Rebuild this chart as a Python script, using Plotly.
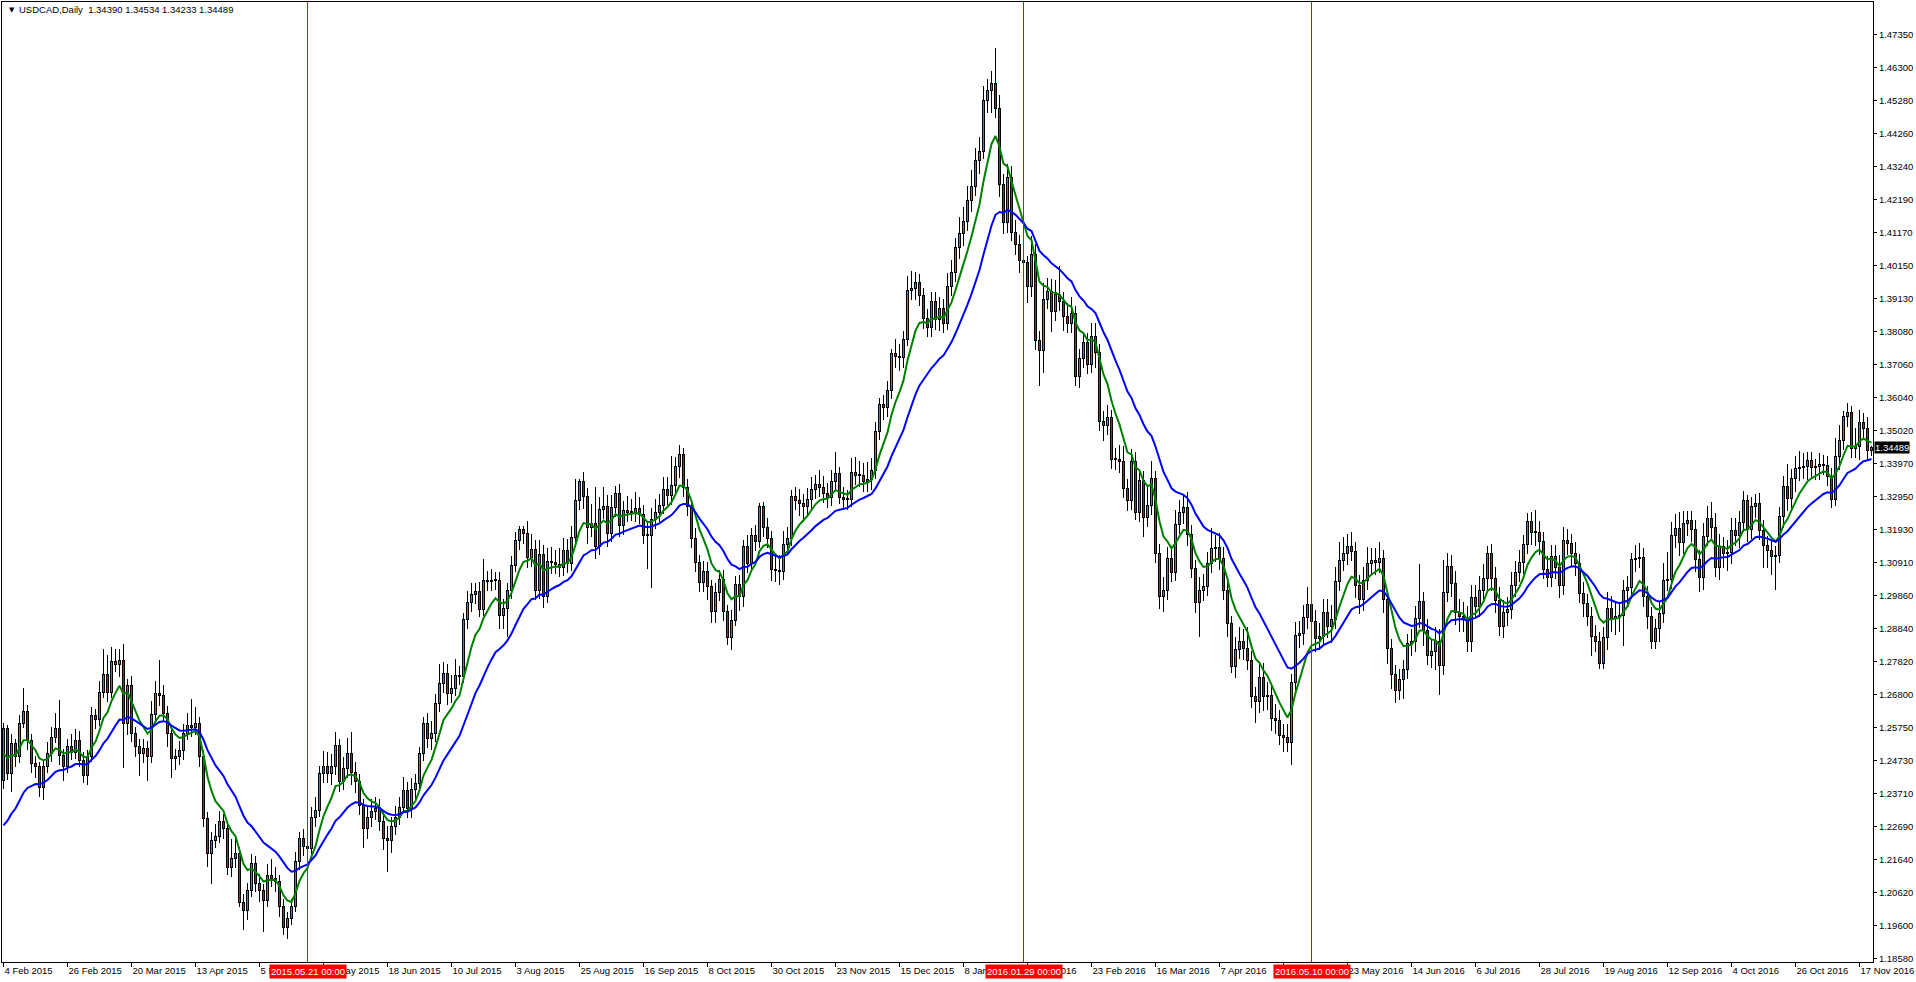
import numpy as np
import pandas as pd
import plotly.graph_objects as go

# ---------------- data ----------------
symbol = "USDCAD,Daily"
first_bar_date = "2015-02-04"
last_bar_date = "2016-11-22"
market_holidays = ["2015-12-25", "2016-01-01"]

closes = [
    1.2575, 1.2434, 1.2527, 1.2486, 1.2590, 1.2626, 1.2538, 1.2465, 1.2455, 1.2392,
    1.2455, 1.2496, 1.2548, 1.2574, 1.2491, 1.2455, 1.2517, 1.2501, 1.2538, 1.2475,
    1.2429, 1.2486, 1.2616, 1.2602, 1.2688, 1.2743, 1.2688, 1.2782, 1.2774, 1.2787,
    1.2590, 1.2709, 1.2558, 1.2517, 1.2496, 1.2512, 1.2486, 1.2619, 1.2683, 1.2676,
    1.2621, 1.2558, 1.2480, 1.2486, 1.2507, 1.2558, 1.2584, 1.2579, 1.2590, 1.2486,
    1.2294, 1.2185, 1.2226, 1.2237, 1.2284, 1.2262, 1.2143, 1.2169, 1.2185, 1.2034,
    1.2008, 1.2070, 1.2154, 1.2091, 1.2070, 1.2039, 1.2117, 1.2107, 1.2097, 1.2019,
    1.1956, 1.1982, 1.2019, 1.2159, 1.2232, 1.2208, 1.2201, 1.2299, 1.2320, 1.2434,
    1.2455, 1.2434, 1.2455, 1.2522, 1.2408, 1.2450, 1.2496, 1.2439, 1.2408, 1.2335,
    1.2262, 1.2299, 1.2315, 1.2325, 1.2284, 1.2232, 1.2226, 1.2268, 1.2299, 1.2330,
    1.2382, 1.2325, 1.2385, 1.2403, 1.2498, 1.2589, 1.2543, 1.2558, 1.2652, 1.2714,
    1.2745, 1.2683, 1.2700, 1.2740, 1.2735, 1.2913, 1.2968, 1.2991, 1.3000, 1.2945,
    1.3036, 1.3031, 1.3036, 1.3036, 1.2925, 1.2947, 1.3003, 1.3082, 1.3161, 1.3194,
    1.3180, 1.3108, 1.3131, 1.3003, 1.3115, 1.2984, 1.3095, 1.3090, 1.3086, 1.3075,
    1.3128, 1.3089, 1.3170, 1.3283, 1.3342, 1.3298, 1.3200, 1.3213, 1.3141, 1.3256,
    1.3266, 1.3180, 1.3262, 1.3305, 1.3207, 1.3252, 1.3246, 1.3248, 1.3259, 1.3240,
    1.3174, 1.3174, 1.3226, 1.3248, 1.3268, 1.3318, 1.3301, 1.3331, 1.3390, 1.3426,
    1.3325, 1.3266, 1.3167, 1.3091, 1.3030, 1.3062, 1.3016, 1.2938, 1.2997, 1.3039,
    1.2938, 1.2859, 1.2912, 1.3023, 1.2984, 1.3141, 1.3089, 1.3174, 1.3157, 1.3266,
    1.3200, 1.3165, 1.3069, 1.3065, 1.3062, 1.3148, 1.3167, 1.3296, 1.3285, 1.3275,
    1.3266, 1.3288, 1.3318, 1.3334, 1.3325, 1.3307, 1.3292, 1.3344, 1.3367, 1.3292,
    1.3288, 1.3288, 1.3370, 1.3361, 1.3361, 1.3344, 1.3348, 1.3377, 1.3498, 1.3584,
    1.3574, 1.3626, 1.3741, 1.3731, 1.3728, 1.3786, 1.3938, 1.3943, 1.3964, 1.3921,
    1.3849, 1.3822, 1.3904, 1.3846, 1.3882, 1.3836, 1.3951, 1.3994, 1.4072, 1.4115,
    1.4152, 1.4217, 1.4262, 1.4341, 1.4371, 1.4530, 1.4560, 1.4581, 1.4505, 1.4269,
    1.4148, 1.4290, 1.4117, 1.4080, 1.4032, 1.4025, 1.3949, 1.4051, 1.3783, 1.3752,
    1.3911, 1.3934, 1.3873, 1.3926, 1.3903, 1.3858, 1.3835, 1.3866, 1.3669, 1.3725,
    1.3775, 1.3707, 1.3795, 1.3745, 1.3529, 1.3518, 1.3541, 1.3413, 1.3413, 1.3405,
    1.3322, 1.3285, 1.3405, 1.3247, 1.3345, 1.3232, 1.3270, 1.3352, 1.3119, 1.2986,
    1.3005, 1.3103, 1.3060, 1.3209, 1.3247, 1.3262, 1.3179, 1.3073, 1.2968, 1.3005,
    1.3016, 1.3088, 1.3134, 1.3137, 1.3103, 1.3005, 1.2900, 1.2768, 1.2820, 1.2844,
    1.2824, 1.2786, 1.2673, 1.2658, 1.2734, 1.2673, 1.2678, 1.2606, 1.2598, 1.2553,
    1.2548, 1.2530, 1.2719, 1.2865, 1.2870, 1.2919, 1.2960, 1.2907, 1.2854, 1.2862,
    1.2937, 1.2892, 1.2915, 1.3031, 1.3096, 1.3119, 1.3141, 1.3126, 1.3021, 1.2975,
    1.3036, 1.3088, 1.3096, 1.3092, 1.3104, 1.2975, 1.2824, 1.2741, 1.2693, 1.2726,
    1.2758, 1.2839, 1.2844, 1.2917, 1.2970, 1.2880, 1.2802, 1.2813, 1.2844, 1.2771,
    1.2997, 1.3080, 1.3025, 1.2937, 1.2924, 1.2916, 1.2844, 1.2982, 1.2953, 1.3005,
    1.3041, 1.3119, 1.3041, 1.2974, 1.2891, 1.2934, 1.2945, 1.3020, 1.3060, 1.3090,
    1.3148, 1.3218, 1.3186, 1.3184, 1.3155, 1.3070, 1.3045, 1.3110, 1.3075, 1.3020,
    1.3161, 1.3150, 1.3119, 1.3088, 1.2994, 1.2963, 1.2922, 1.2862, 1.2844, 1.2776,
    1.2859, 1.2948, 1.2916, 1.2924, 1.2927, 1.3003, 1.3013, 1.3100, 1.3104, 1.3106,
    1.2984, 1.2924, 1.2844, 1.2885, 1.2932, 1.3036, 1.3038, 1.3176, 1.3197, 1.3152,
    1.3214, 1.3221, 1.3194, 1.3100, 1.3045, 1.3173, 1.3228, 1.3200, 1.3077, 1.3140,
    1.3119, 1.3121, 1.3190, 1.3176, 1.3215, 1.3285, 1.3194, 1.3264, 1.3275, 1.3192,
    1.3145, 1.3129, 1.3111, 1.3114, 1.3233, 1.3329, 1.3290, 1.3352, 1.3384, 1.3387,
    1.3389, 1.3410, 1.3387, 1.3389, 1.3397, 1.3394, 1.3360, 1.3287, 1.3420, 1.3472,
    1.3544, 1.3557, 1.3446, 1.3451, 1.3526, 1.3508, 1.3439, 1.34489,
]

opens = [
    1.2413, 1.2575, 1.2434, 1.2527, 1.2486, 1.2590, 1.2626, 1.2538, 1.2465, 1.2455,
    1.2392, 1.2455, 1.2496, 1.2548, 1.2574, 1.2491, 1.2455, 1.2517, 1.2501, 1.2538,
    1.2475, 1.2429, 1.2486, 1.2616, 1.2602, 1.2688, 1.2743, 1.2688, 1.2782, 1.2774,
    1.2787, 1.2590, 1.2709, 1.2558, 1.2517, 1.2496, 1.2512, 1.2486, 1.2619, 1.2683,
    1.2676, 1.2621, 1.2558, 1.2480, 1.2486, 1.2507, 1.2558, 1.2584, 1.2579, 1.2590,
    1.2486, 1.2294, 1.2185, 1.2226, 1.2237, 1.2284, 1.2262, 1.2143, 1.2169, 1.2185,
    1.2034, 1.2008, 1.2070, 1.2154, 1.2091, 1.2070, 1.2039, 1.2117, 1.2107, 1.2097,
    1.2019, 1.1956, 1.1982, 1.2019, 1.2159, 1.2232, 1.2208, 1.2201, 1.2299, 1.2320,
    1.2434, 1.2455, 1.2434, 1.2455, 1.2522, 1.2408, 1.2450, 1.2496, 1.2439, 1.2408,
    1.2335, 1.2262, 1.2299, 1.2315, 1.2325, 1.2284, 1.2232, 1.2226, 1.2268, 1.2299,
    1.2330, 1.2382, 1.2325, 1.2385, 1.2403, 1.2498, 1.2589, 1.2543, 1.2558, 1.2652,
    1.2714, 1.2745, 1.2683, 1.2700, 1.2740, 1.2735, 1.2913, 1.2968, 1.2991, 1.3000,
    1.2945, 1.3036, 1.3031, 1.3036, 1.3036, 1.2925, 1.2947, 1.3003, 1.3082, 1.3161,
    1.3194, 1.3180, 1.3108, 1.3131, 1.3003, 1.3115, 1.2984, 1.3095, 1.3090, 1.3086,
    1.3075, 1.3128, 1.3089, 1.3170, 1.3283, 1.3342, 1.3298, 1.3200, 1.3213, 1.3141,
    1.3256, 1.3266, 1.3180, 1.3262, 1.3305, 1.3207, 1.3252, 1.3246, 1.3248, 1.3259,
    1.3240, 1.3174, 1.3174, 1.3226, 1.3248, 1.3268, 1.3318, 1.3301, 1.3331, 1.3390,
    1.3426, 1.3325, 1.3266, 1.3167, 1.3091, 1.3030, 1.3062, 1.3016, 1.2938, 1.2997,
    1.3039, 1.2938, 1.2859, 1.2912, 1.3023, 1.2984, 1.3141, 1.3089, 1.3174, 1.3157,
    1.3266, 1.3200, 1.3165, 1.3069, 1.3065, 1.3062, 1.3148, 1.3167, 1.3296, 1.3285,
    1.3275, 1.3266, 1.3288, 1.3318, 1.3334, 1.3325, 1.3307, 1.3292, 1.3344, 1.3367,
    1.3292, 1.3288, 1.3288, 1.3370, 1.3361, 1.3361, 1.3344, 1.3348, 1.3377, 1.3498,
    1.3584, 1.3574, 1.3626, 1.3741, 1.3731, 1.3728, 1.3786, 1.3938, 1.3943, 1.3964,
    1.3921, 1.3849, 1.3822, 1.3904, 1.3846, 1.3882, 1.3836, 1.3951, 1.3994, 1.4072,
    1.4115, 1.4152, 1.4217, 1.4262, 1.4341, 1.4371, 1.4530, 1.4560, 1.4581, 1.4505,
    1.4269, 1.4148, 1.4290, 1.4117, 1.4080, 1.4032, 1.4025, 1.3949, 1.4051, 1.3783,
    1.3752, 1.3911, 1.3934, 1.3873, 1.3926, 1.3903, 1.3858, 1.3835, 1.3866, 1.3669,
    1.3725, 1.3775, 1.3707, 1.3795, 1.3745, 1.3529, 1.3518, 1.3541, 1.3413, 1.3413,
    1.3405, 1.3322, 1.3285, 1.3405, 1.3247, 1.3345, 1.3232, 1.3270, 1.3352, 1.3119,
    1.2986, 1.3005, 1.3103, 1.3060, 1.3209, 1.3247, 1.3262, 1.3179, 1.3073, 1.2968,
    1.3005, 1.3016, 1.3088, 1.3134, 1.3137, 1.3103, 1.3005, 1.2900, 1.2768, 1.2820,
    1.2844, 1.2824, 1.2786, 1.2673, 1.2658, 1.2734, 1.2673, 1.2678, 1.2606, 1.2598,
    1.2553, 1.2548, 1.2530, 1.2719, 1.2865, 1.2870, 1.2919, 1.2960, 1.2907, 1.2854,
    1.2862, 1.2937, 1.2892, 1.2915, 1.3031, 1.3096, 1.3119, 1.3141, 1.3126, 1.3021,
    1.2975, 1.3036, 1.3088, 1.3096, 1.3092, 1.3104, 1.2975, 1.2824, 1.2741, 1.2693,
    1.2726, 1.2758, 1.2839, 1.2844, 1.2917, 1.2970, 1.2880, 1.2802, 1.2813, 1.2844,
    1.2771, 1.2997, 1.3080, 1.3025, 1.2937, 1.2924, 1.2916, 1.2844, 1.2982, 1.2953,
    1.3005, 1.3041, 1.3119, 1.3041, 1.2974, 1.2891, 1.2934, 1.2945, 1.3020, 1.3060,
    1.3090, 1.3148, 1.3218, 1.3186, 1.3184, 1.3155, 1.3070, 1.3045, 1.3110, 1.3075,
    1.3020, 1.3161, 1.3150, 1.3119, 1.3088, 1.2994, 1.2963, 1.2922, 1.2862, 1.2844,
    1.2776, 1.2859, 1.2948, 1.2916, 1.2924, 1.2927, 1.3003, 1.3013, 1.3100, 1.3104,
    1.3106, 1.2984, 1.2924, 1.2844, 1.2885, 1.2932, 1.3036, 1.3038, 1.3176, 1.3197,
    1.3152, 1.3214, 1.3221, 1.3194, 1.3100, 1.3045, 1.3173, 1.3228, 1.3200, 1.3077,
    1.3140, 1.3119, 1.3121, 1.3190, 1.3176, 1.3215, 1.3285, 1.3194, 1.3264, 1.3275,
    1.3192, 1.3145, 1.3129, 1.3111, 1.3114, 1.3233, 1.3329, 1.3290, 1.3352, 1.3384,
    1.3387, 1.3389, 1.3410, 1.3387, 1.3389, 1.3397, 1.3394, 1.3360, 1.3287, 1.3420,
    1.3472, 1.3544, 1.3557, 1.3446, 1.3451, 1.3526, 1.3508, 1.34390,
]

# wick lengths above / below the candle body, in pips (0.0001)
upper_wick_pips = [
    17, 10, 30, 15, 25, 75, 21, 20, 25, 15,
    20, 35, 30, 49, 90, 20, 25, 40, 35, 30,
    25, 20, 25, 20, 35, 80, 60, 45, 40, 36,
    49, 20, 30, 20, 25, 30, 25, 40, 40, 104,
    33, 25, 20, 25, 30, 30, 40, 83, 50, 20,
    20, 20, 25, 40, 35, 25, 20, 60, 55, 20,
    25, 25, 30, 25, 30, 20, 35, 50, 35, 20,
    25, 20, 25, 30, 20, 30, 35, 30, 40, 25,
    50, 45, 40, 42, 20, 35, 50, 68, 30, 25,
    20, 35, 40, 35, 30, 30, 40, 30, 35, 30,
    40, 25, 35, 30, 20, 21, 35, 40, 30, 62,
    35, 30, 40, 52, 30, 20, 35, 35, 26, 30,
    66, 30, 35, 25, 25, 30, 25, 30, 25, 10,
    10, 40, 50, 30, 45, 30, 40, 45, 40, 50,
    40, 35, 35, 68, 10, 30, 25, 60, 114, 40,
    60, 35, 40, 25, 30, 30, 45, 40, 50, 35,
    30, 40, 35, 40, 35, 39, 40, 92, 30, 32,
    20, 25, 20, 30, 25, 35, 30, 20, 30, 30,
    30, 20, 30, 25, 30, 20, 35, 25, 35, 10,
    14, 30, 25, 45, 50, 40, 35, 20, 30, 35,
    30, 35, 40, 30, 45, 35, 30, 35, 69, 20,
    35, 30, 45, 50, 45, 40, 55, 40, 30, 20,
    30, 30, 16, 45, 40, 25, 44, 56, 30, 25,
    25, 30, 30, 30, 35, 30, 40, 40, 30, 50,
    45, 45, 50, 40, 45, 45, 37, 40, 110, 40,
    30, 40, 36, 40, 30, 30, 20, 55, 30, 30,
    50, 42, 40, 45, 88, 30, 40, 50, 25, 30,
    35, 30, 40, 40, 25, 35, 40, 25, 35, 45,
    50, 30, 40, 30, 30, 30, 60, 55, 25, 30,
    40, 35, 30, 45, 40, 40, 50, 30, 25, 40,
    40, 35, 65, 40, 45, 35, 25, 25, 40, 45,
    40, 65, 30, 30, 40, 45, 40, 30, 45, 35,
    35, 40, 26, 40, 40, 40, 56, 30, 35, 40,
    40, 40, 45, 45, 60, 52, 40, 45, 30, 30,
    40, 50, 40, 40, 50, 25, 30, 30, 30, 35,
    30, 30, 40, 40, 116, 30, 35, 40, 45, 40,
    103, 41, 35, 40, 40, 45, 40, 40, 40, 45,
    45, 23, 30, 35, 40, 40, 40, 40, 35, 40,
    30, 26, 30, 68, 35, 30, 40, 35, 35, 40,
    40, 33, 30, 35, 30, 35, 30, 30, 35, 30,
    30, 50, 40, 45, 40, 35, 35, 20, 43, 45,
    30, 35, 30, 30, 35, 55, 86, 40, 45, 51,
    38, 30, 30, 30, 30, 40, 38, 52, 45, 40,
    30, 40, 40, 40, 35, 29, 15, 30, 30, 31,
    30, 30, 30, 30, 30, 30, 70, 30, 40, 50,
    43, 25, 25, 25, 35, 30, 30, 25, 60, 48,
    20, 32, 20, 60, 39, 30, 35, 4.5,
]

lower_wick_pips = [
    26, 20, 57, 30, 20, 15, 30, 30, 35, 31,
    40, 20, 25, 20, 30, 45, 20, 25, 20, 20,
    25, 30, 15, 30, 20, 20, 30, 20, 25, 40,
    140, 35, 25, 30, 70, 30, 75, 20, 25, 30,
    25, 40, 60, 35, 25, 30, 20, 30, 25, 30,
    25, 42, 96, 25, 20, 30, 25, 30, 30, 15,
    62, 30, 20, 25, 35, 98, 20, 25, 30, 30,
    25, 36, 20, 15, 25, 30, 30, 20, 30, 20,
    30, 30, 35, 25, 30, 25, 30, 40, 35, 30,
    59, 30, 30, 25, 30, 35, 98, 40, 25, 25,
    20, 30, 30, 35, 20, 25, 30, 35, 25, 25,
    30, 35, 30, 25, 25, 20, 30, 30, 30, 25,
    20, 30, 30, 30, 40, 40, 88, 25, 20, 30,
    30, 35, 30, 30, 25, 33, 20, 35, 30, 30,
    25, 30, 25, 20, 30, 40, 50, 30, 40, 25,
    30, 40, 25, 30, 35, 30, 30, 25, 30, 30,
    25, 102, 161, 30, 30, 25, 30, 30, 30, 35,
    30, 30, 30, 30, 30, 30, 43, 35, 35, 25,
    30, 26, 40, 20, 45, 30, 30, 25, 30, 20,
    30, 30, 35, 35, 40, 25, 30, 25, 30, 40,
    50, 30, 30, 30, 30, 30, 30, 25, 30, 20,
    35, 35, 25, 30, 35, 35, 35, 30, 25, 25,
    40, 30, 25, 35, 40, 30, 20, 30, 35, 30,
    30, 30, 30, 30, 35, 30, 20, 30, 30, 35,
    40, 30, 35, 30, 40, 25, 40, 70, 30, 41,
    33, 30, 25, 33, 40, 76, 50, 30, 31, 113,
    70, 30, 65, 30, 30, 45, 30, 30, 30, 35,
    30, 30, 25, 50, 30, 50, 30, 30, 35, 35,
    30, 35, 30, 25, 30, 61, 30, 30, 30, 41,
    50, 30, 30, 25, 30, 35, 35, 30, 35, 109,
    35, 30, 30, 40, 35, 30, 40, 20, 35, 30,
    35, 30, 35, 65, 35, 45, 40, 40, 40, 30,
    48, 30, 68, 30, 40, 35, 35, 35, 40, 35,
    30, 35, 50, 30, 30, 30, 35, 30, 40, 45,
    35, 30, 35, 40, 35, 40, 50, 45, 39, 30,
    61, 30, 40, 30, 30, 50, 30, 40, 55, 93,
    30, 30, 40, 40, 50, 40, 30, 30, 35, 30,
    30, 35, 40, 40, 29, 35, 40, 30, 35, 30,
    35, 30, 40, 40, 40, 30, 30, 30, 35, 40,
    30, 35, 40, 40, 30, 40, 30, 63, 30, 15,
    15, 40, 40, 50, 50, 97, 40, 35, 40, 30,
    30, 40, 21, 22, 40, 30, 35, 30, 40, 40,
    35, 40, 40, 40, 45, 40, 30, 40, 30, 40,
    45, 55, 35, 35, 40, 30, 40, 30, 35, 30,
    70, 55, 60, 106, 25, 35, 40, 35, 40, 40,
    35, 40, 35, 40, 40, 30, 30, 25, 21, 40,
    30, 30, 30, 30, 40, 30, 30, 15.7,
]

# moving averages (value at the first visible bar)
green_ma_period = 8
green_ma_first_value = 1.2496
blue_ma_period = 21
blue_ma_first_value = 1.2273

x_tick_labels = [
    "4 Feb 2015", "26 Feb 2015", "20 Mar 2015", "13 Apr 2015", "5 May 2015",
    "27 May 2015", "18 Jun 2015", "10 Jul 2015", "3 Aug 2015", "25 Aug 2015",
    "16 Sep 2015", "8 Oct 2015", "30 Oct 2015", "23 Nov 2015", "15 Dec 2015",
    "8 Jan 2016", "1 Feb 2016", "23 Feb 2016", "16 Mar 2016", "7 Apr 2016",
    "29 Apr 2016", "23 May 2016", "14 Jun 2016", "6 Jul 2016", "28 Jul 2016",
    "19 Aug 2016", "12 Sep 2016", "4 Oct 2016", "26 Oct 2016", "17 Nov 2016",
]
x_tick_every_bars = 16

y_tick_labels = [
    "1.47350", "1.46300", "1.45280", "1.44260", "1.43240", "1.42190", "1.41170",
    "1.40150", "1.39130", "1.38080", "1.37060", "1.36040", "1.35020", "1.33970",
    "1.32950", "1.31930", "1.30910", "1.29860", "1.28840", "1.27820", "1.26800",
    "1.25750", "1.24730", "1.23710", "1.22690", "1.21640", "1.20620", "1.19600",
    "1.18580",
]

vline_dates = ["2015-05-21", "2016-01-29", "2016-05-10"]
vline_labels = ["2015.05.21 00:00", "2016.01.29 00:00", "2016.05.10 00:00"]

# ---------------- derived ----------------
n = len(closes)
bars = list(range(n))
dates = [d.strftime("%Y-%m-%d") for d in pd.bdate_range(first_bar_date, last_bar_date)
         if d.strftime("%Y-%m-%d") not in market_holidays]
date_to_bar = {d: i for i, d in enumerate(dates)}

highs = [max(o, c) + u / 10000.0 for o, c, u in zip(opens, closes, upper_wick_pips)]
lows = [min(o, c) - d / 10000.0 for o, c, d in zip(opens, closes, lower_wick_pips)]


def ema(values, period, first_value):
    k = 2.0 / (period + 1.0)
    out = [first_value]
    for v in values[1:]:
        out.append(out[-1] + k * (v - out[-1]))
    return out


green_ma = ema(closes, green_ma_period, green_ma_first_value)
blue_ma = ema(closes, blue_ma_period, blue_ma_first_value)

# ---------------- styling / geometry ----------------
FONT = "Liberation Sans, Arial, sans-serif"
FS = 9.5
BULL = "#4682B4"
BEAR = "#B22222"
W, H = 1916, 982
ML, MR, MT, MB = 2, 43, 2, 20
plot_w = W - ML - MR
plot_h = H - MT - MB
y_min, y_max = 1.18477, 1.48356
px_price = (y_max - y_min) / plot_h      # price per screen pixel
bar_px = 4.0                             # screen pixels per bar
x_lo = -1.5 / bar_px
x_hi = x_lo + plot_w / bar_px


def px_to_paper_x(px):
    return (px - ML) / plot_w


def px_to_paper_y(py):
    return 1 - (py - MT) / plot_h


# candle pieces (MT4 style: black wick, black 3px body frame, coloured core)
wick_base = lows
wick_h = [h - l for h, l in zip(highs, lows)]

frame_base, frame_h = [], []
core_bull_base, core_bull_h, core_bear_base, core_bear_h = [], [], [], []
for o, c in zip(opens, closes):
    lo_b, hi_b = min(o, c), max(o, c)
    h = max(hi_b - lo_b, px_price)
    frame_base.append(lo_b - 0.5 * px_price)
    frame_h.append(h + px_price)
    inner = hi_b - lo_b - px_price
    if inner > 0:
        base = lo_b + 0.5 * px_price
    else:
        base, inner = lo_b, 0
    if c >= o:
        core_bull_base.append(base); core_bull_h.append(inner)
        core_bear_base.append(None); core_bear_h.append(None)
    else:
        core_bear_base.append(base); core_bear_h.append(inner)
        core_bull_base.append(None); core_bull_h.append(None)

fig = go.Figure()
fig.add_trace(go.Bar(x=bars, y=wick_h, base=wick_base, width=1 / bar_px,
                     marker=dict(color="black", line=dict(width=0)), hoverinfo="skip", showlegend=False))
fig.add_trace(go.Bar(x=bars, y=frame_h, base=frame_base, width=3 / bar_px,
                     marker=dict(color="black", line=dict(width=0)), hoverinfo="skip", showlegend=False))
fig.add_trace(go.Bar(x=bars, y=core_bull_h, base=core_bull_base, width=1 / bar_px,
                     marker=dict(color=BULL, line=dict(width=0)), hoverinfo="skip", showlegend=False))
fig.add_trace(go.Bar(x=bars, y=core_bear_h, base=core_bear_base, width=1 / bar_px,
                     marker=dict(color=BEAR, line=dict(width=0)), hoverinfo="skip", showlegend=False))
fig.add_trace(go.Scatter(x=bars, y=green_ma, mode="lines",
                         line=dict(color="#008000", width=2), hoverinfo="skip", showlegend=False))
fig.add_trace(go.Scatter(x=bars, y=blue_ma, mode="lines",
                         line=dict(color="#0000FF", width=2), hoverinfo="skip", showlegend=False))

y_tick_vals = list(np.linspace(float(y_tick_labels[-1]), float(y_tick_labels[0]), len(y_tick_labels)))[::-1]

shapes = []
annotations = []
for d, lab in zip(vline_dates, vline_labels):
    b = date_to_bar.get(d)
    if b is None:
        continue
    shapes.append(dict(type="line", xref="x", yref="paper", x0=b, x1=b, y0=0, y1=1,
                       line=dict(color="#FF0000", width=1), layer="above"))
    annotations.append(dict(xref="x", yref="paper", x=b, y=0, xanchor="center", yanchor="top",
                            yshift=-2, text=lab, showarrow=False, bgcolor="#FF0000",
                            font=dict(family=FONT, size=FS, color="white"), borderpad=1))

# current price label
annotations.append(dict(xref="paper", yref="y", x=1, y=closes[-1], xanchor="left", yanchor="middle",
                        xshift=1, text=f"{closes[-1]:.5f}", showarrow=False, bgcolor="black",
                        font=dict(family=FONT, size=FS, color="white"), borderpad=0))
# header
annotations.append(dict(xref="paper", yref="paper", x=px_to_paper_x(7), y=px_to_paper_y(10),
                        xanchor="left", yanchor="middle", text="\u25BC", showarrow=False,
                        font=dict(family="DejaVu Sans", size=7, color="black")))
header = (f"{symbol}\u00a0\u00a0{opens[-1]:.5f} {highs[-1]:.5f} {lows[-1]:.5f} {closes[-1]:.5f}")
annotations.append(dict(xref="paper", yref="paper", x=px_to_paper_x(17), y=px_to_paper_y(10),
                        xanchor="left", yanchor="middle", text=header, showarrow=False,
                        font=dict(family=FONT, size=FS, color="black")))

fig.update_layout(
    width=W, height=H,
    margin=dict(l=ML, r=MR, t=MT, b=MB, pad=0),
    paper_bgcolor="white", plot_bgcolor="white",
    showlegend=False, hovermode=False,
    barmode="overlay", bargap=0, bargroupgap=0,
    shapes=shapes, annotations=annotations,
    font=dict(family=FONT, size=FS, color="black"),
    xaxis=dict(
        range=[x_lo, x_hi],
        tickmode="array", tickvals=[k * x_tick_every_bars for k in range(len(x_tick_labels))],
        ticktext=x_tick_labels, ticks="outside", ticklen=4, tickcolor="black", tickwidth=1,
        ticklabelposition="outside right",
        showgrid=False, zeroline=False, showline=True, linecolor="black", linewidth=1, mirror=True,
        tickfont=dict(family=FONT, size=FS, color="black"), fixedrange=True,
    ),
    yaxis=dict(
        range=[y_min, y_max], side="right",
        tickmode="array", tickvals=y_tick_vals, ticktext=y_tick_labels,
        ticks="outside", ticklen=3, tickcolor="black", tickwidth=1,
        showgrid=False, zeroline=False, showline=True, linecolor="black", linewidth=1, mirror=True,
        tickfont=dict(family=FONT, size=FS, color="black"), fixedrange=True,
    ),
)

fig.write_html("out.html", config={"displayModeBar": False, "staticPlot": True},
               post_script="document.body.style.margin='0px';document.body.style.overflow='hidden';")
